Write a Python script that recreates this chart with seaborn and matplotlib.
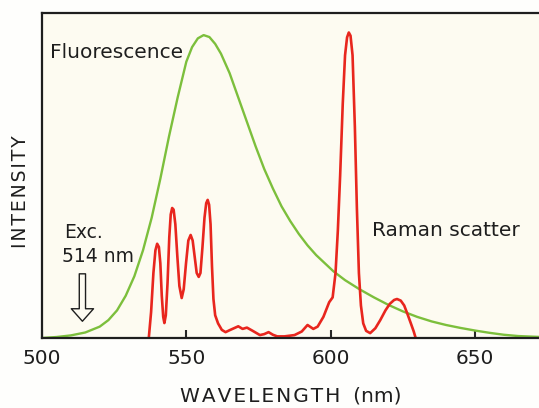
import numpy as np
import pandas as pd
import matplotlib
matplotlib.use('Agg')
import matplotlib.pyplot as plt
import seaborn as sns
from matplotlib.patches import FancyArrowPatch

# Fluorescence band (green)
fluor_nm = [500, 505, 510, 515, 520, 523, 526, 529, 532, 535, 538, 541, 544,
            547, 550, 552, 554, 556, 558, 560, 562, 565, 568, 571, 574, 577,
            580, 583, 586, 589, 592, 595, 598, 601, 605, 610, 615, 620, 625,
            630, 635, 640, 645, 650, 655, 660, 665, 673]
fluor_int = [0.0, 0.003, 0.008, 0.017, 0.035, 0.055, 0.085, 0.13, 0.19, 0.27,
             0.37, 0.49, 0.62, 0.74, 0.85, 0.895, 0.922, 0.932, 0.926, 0.905,
             0.875, 0.815, 0.74, 0.665, 0.59, 0.52, 0.46, 0.405, 0.36, 0.32,
             0.285, 0.255, 0.23, 0.205, 0.178, 0.15, 0.125, 0.102, 0.082,
             0.065, 0.051, 0.04, 0.031, 0.023, 0.016, 0.01, 0.006, 0.003]

# Raman scatter (red)
raman_nm = [536.8, 537.8, 538.6, 539.3, 539.9, 540.5, 541.0, 541.5, 542.0,
            542.4, 542.9, 543.5, 544.1, 544.6, 545.1, 545.6, 546.2, 546.9,
            547.6, 548.4, 549.1, 549.9, 550.7, 551.5, 552.2, 552.9, 553.6,
            554.3, 554.9, 555.6, 556.3, 556.9, 557.4, 557.9, 558.4, 558.9,
            559.4, 560.0, 561.0, 562.3, 563.6, 565.0, 566.5, 568.0, 569.5,
            571.0, 573.0, 575.5, 577.0, 578.5, 580.0, 581.5, 584.0, 587.5,
            590.0, 592.0, 594.0, 595.5, 597.5, 599.5, 600.7, 601.7, 602.5,
            603.3, 604.2, 605.0, 605.7, 606.3, 606.9, 607.6, 608.4, 609.1,
            609.8, 610.5, 611.3, 612.3, 613.7, 615.5, 617.2, 619.0, 620.5,
            622.0, 623.0, 624.3, 625.5, 626.7, 627.8, 628.8, 629.8]
raman_int = [-0.02, 0.08, 0.2, 0.27, 0.29, 0.28, 0.23, 0.13, 0.065,
             0.046, 0.07, 0.17, 0.31, 0.38, 0.40, 0.395, 0.35, 0.25,
             0.16, 0.123, 0.15, 0.23, 0.30, 0.317, 0.30, 0.25, 0.20,
             0.188, 0.20, 0.28, 0.37, 0.415, 0.425, 0.41, 0.35, 0.22,
             0.12, 0.07, 0.045, 0.025, 0.018, 0.024, 0.03, 0.036, 0.028,
             0.032, 0.022, 0.009, 0.012, 0.018, 0.01, 0.005, 0.005, 0.009,
             0.02, 0.04, 0.028, 0.035, 0.065, 0.11, 0.125, 0.2, 0.33,
             0.5, 0.72, 0.87, 0.925, 0.94, 0.93, 0.87, 0.65, 0.4,
             0.2, 0.1, 0.045, 0.022, 0.015, 0.03, 0.055, 0.085, 0.105,
             0.117, 0.12, 0.115, 0.1, 0.072, 0.045, 0.02, -0.01]

x_ticks = [500, 550, 600, 650]

sns.set_style('ticks')
plt.rcParams['font.family'] = ['DejaVu Sans']

ink = '#1e1e1e'
cream = '#fdfbf1'
hair = '\u200a'  # wide letter spacing as in the original print
fig = plt.figure(figsize=(5.39, 4.08), dpi=100, facecolor='#fefefc')
ax = fig.add_axes([42 / 539, 70 / 408, 497 / 539, 325 / 408])
ax.set_facecolor(cream)

fluor = pd.DataFrame({'nm': fluor_nm, 'intensity': fluor_int})
raman = pd.DataFrame({'nm': raman_nm, 'intensity': raman_int})

sns.lineplot(data=fluor, x='nm', y='intensity', ax=ax, color='#7cbf3c',
             lw=1.7, sort=False, estimator=None)
sns.lineplot(data=raman, x='nm', y='intensity', ax=ax, color='#e8261e',
             lw=1.9, sort=False, estimator=None)

ax.set_xlim(500, 672.2)
ax.set_ylim(0, 1)
ax.set_xticks(x_ticks)
ax.set_xticklabels([str(t) for t in x_ticks], fontsize=14.5, color=ink)
ax.set_yticks([])
ax.tick_params(axis='x', direction='in', length=6, width=1.5, pad=8)

for side in ['left', 'top', 'bottom']:
    ax.spines[side].set_linewidth(1.6)
    ax.spines[side].set_color(ink)
ax.spines['right'].set_visible(False)

ax.set_xlabel(hair.join('WAVELENGTH') + '  (nm)', fontsize=14.5, color=ink)
ax.xaxis.set_label_coords(0.5, -0.15)
ax.set_ylabel(hair.join('INTENSITY'), fontsize=13.5, color=ink)
ax.yaxis.set_label_coords(-0.024, 0.45)

ax.text(502.8, 0.88, 'Fluorescence', fontsize=14.5, color=ink,
        ha='left', va='center')
ax.text(614.3, 0.332, 'Raman scatter', fontsize=14.5, color=ink,
        ha='left', va='center')
ax.text(507.6, 0.326, 'Exc.', fontsize=13.5, color=ink,
        ha='left', va='center')
ax.text(507.0, 0.252, '514 nm', fontsize=13.5, color=ink,
        ha='left', va='center')

arrow = FancyArrowPatch((514, 0.206), (514, 0.043),
                        arrowstyle='simple,head_length=0.9,head_width=1.6,tail_width=0.45',
                        mutation_scale=10, fc=cream, ec=ink, lw=1.0)
ax.add_patch(arrow)

fig.savefig('out.png', dpi=100, facecolor=fig.get_facecolor())
